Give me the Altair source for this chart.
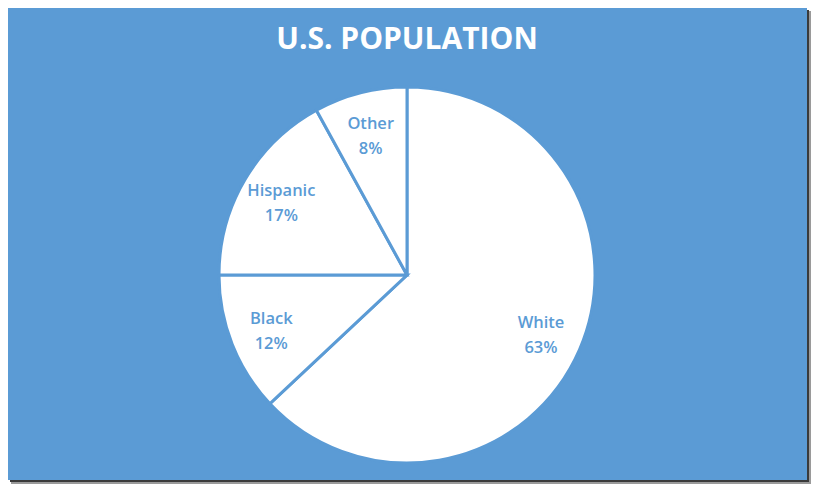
import altair as alt
import pandas as pd

categories = ["White", "Black", "Hispanic", "Other"]
shares = [63, 12, 17, 8]
order = [1, 2, 3, 4]
title_text = "U.S.  POPULATION"

BLUE = "#5B9BD5"
W, H = 803, 476          # whole canvas (page minus 8px margins)
BW, BH = 799, 472        # blue panel
CX, CY = 399, 267        # pie centre in canvas coords
R = 188

df = pd.DataFrame({
    "cat": categories,
    "share": shares,
    "ord": order,
})
df["label"] = df["cat"] + "\n" + df["share"].astype(str) + "%"

one = pd.DataFrame({"t": [title_text]})

panel = alt.Chart(one).mark_rect(color=BLUE).encode(
    x=alt.value(0), x2=alt.value(BW), y=alt.value(0), y2=alt.value(BH)
)
shadow_r = alt.Chart(one).mark_rect(color="#3a3a3a").encode(
    x=alt.value(BW), x2=alt.value(BW + 2), y=alt.value(2), y2=alt.value(BH + 2)
)
shadow_r2 = alt.Chart(one).mark_rect(color="#9a9a9a").encode(
    x=alt.value(BW + 2), x2=alt.value(BW + 4), y=alt.value(3), y2=alt.value(BH + 4)
)
shadow_b = alt.Chart(one).mark_rect(color="#3a3a3a").encode(
    x=alt.value(2), x2=alt.value(BW + 2), y=alt.value(BH), y2=alt.value(BH + 2)
)
shadow_b2 = alt.Chart(one).mark_rect(color="#9a9a9a").encode(
    x=alt.value(3), x2=alt.value(BW + 4), y=alt.value(BH + 2), y2=alt.value(BH + 4)
)

base = alt.Chart(df).encode(
    theta=alt.Theta("share:Q", stack=True),
    order=alt.Order("ord:Q"),
)

pie = base.mark_arc(
    outerRadius=R, fill="white", stroke=BLUE, strokeWidth=3
).encode(x=alt.value(CX), y=alt.value(CY))

labels = base.mark_text(
    radius=146, dy=-10, color=BLUE, font="Open Sans", fontSize=16.5, fontWeight=600,
    lineBreak="\n", lineHeight=25, align="center", baseline="middle",
).encode(x=alt.value(CX), y=alt.value(CY), text="label:N")

title = alt.Chart(one).mark_text(
    color="white", font="Open Sans", fontSize=30, fontWeight="bold",
    align="center", baseline="middle",
).encode(x=alt.value(CX), y=alt.value(32), text="t:N")

chart = alt.layer(
    panel, shadow_r, shadow_r2, shadow_b, shadow_b2, pie, labels, title
).properties(
    width=W, height=H, autosize=alt.AutoSizeParams(type="none"),
    padding=0, background="white",
).configure_view(stroke=None)

chart.save("out.html", embed_options={"renderer": "svg", "actions": False})
